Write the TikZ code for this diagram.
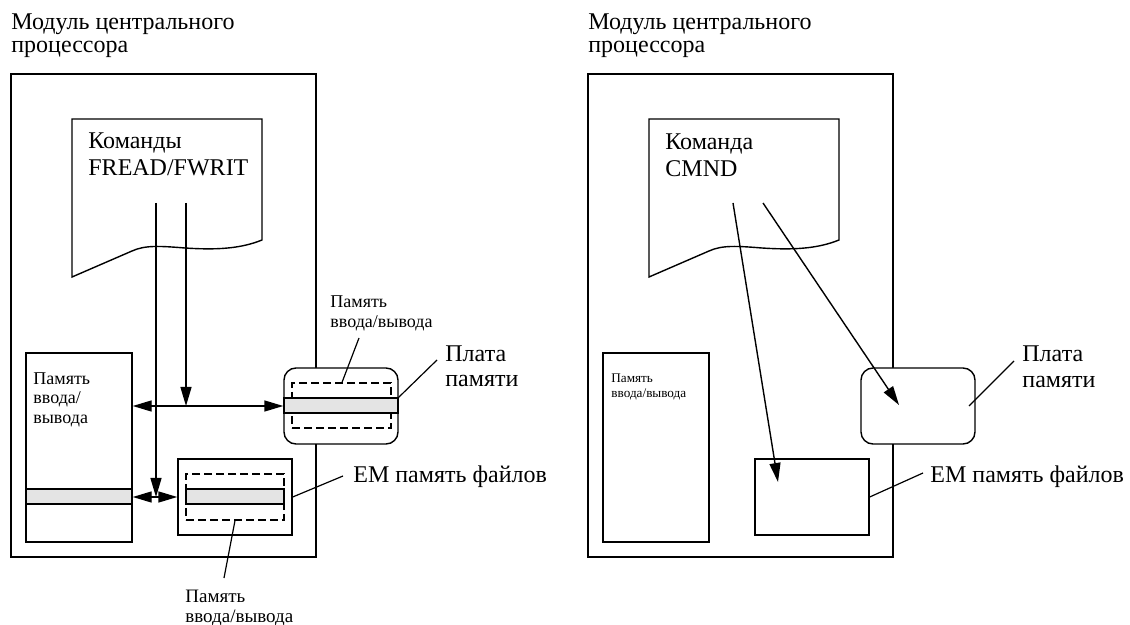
\documentclass[tikz,border=0pt]{standalone}
\usepackage{fontspec}
\setmainfont{Liberation Serif}
\usetikzlibrary{arrows.meta,fit,calc}
\definecolor{stripgray}{RGB}{228,228,228}

\tikzset{
  box/.style={draw, line width=0.7pt, inner sep=0pt, fill=white},
  board/.style={box, rounded corners=6pt},
  dashbox/.style={draw, dash pattern=on 4pt off 2pt, line width=0.6pt, inner sep=0pt},
  strip/.style={draw, line width=0.7pt, fill=stripgray, inner sep=0pt},
  txt/.style={anchor=base west, inner sep=0pt, align=left},
  bigtxt/.style={txt, font=\fontsize{12}{13.7}\selectfont},
  smalltxt/.style={txt, font=\fontsize{9}{10}\selectfont},
  tinytxt/.style={txt, font=\fontsize{6.6}{7.5}\selectfont},
  arr/.style={line width=0.7pt, -{Triangle[length=9.5pt,width=5.5pt]}},
  dbl/.style={line width=0.7pt, {Triangle[length=9.5pt,width=5.5pt]}-{Triangle[length=9.5pt,width=5.5pt]}},
  leader/.style={line width=0.6pt},
}

\begin{document}
\begin{tikzpicture}[x=0.5pt, y=-0.5pt]
    \useasboundingbox (0,0) rectangle (1130,625);

    % left: FREAD/FWRIT
    \node[bigtxt, font=\fontsize{12}{11.7}\selectfont] (titleL) at (11,53) {Модуль центрального\\процессора};
    \node[box, fill=none, fit={(11,74) (316,557)}] (cpuL) {};
    \draw[line width=0.7pt, fill=white] (72,277) -- (72,119) -- (262,119) -- (262,240)
        .. controls (240,249) and (215,250) .. (185,248)
        .. controls (160,246) and (145,245) .. (132,251) -- cycle;
    \node[bigtxt] (cmdL) at (88,176) {Команды\\FREAD/FWRIT};

    \node[box, fit={(26,353) (132,542)}] (iobufL) {};
    \node[strip, fit={(26,489) (132,504)}] (iostripL) {};
    \node[smalltxt] (iotxtL) at (33,424) {Память\\ввода/\\вывода};

    \node[box, fit={(178,459) (292,535)}] (emL) {};
    \node[dashbox, fit={(186,474) (284,520)}] (emdashL) {};
    \node[strip, fit={(186,489) (284,504)}] (emstripL) {};

    \node[board, fit={(284,368) (398,444)}] (boardL) {};
    \node[dashbox, fit={(292,383) (391,428)}] (bdashL) {};
    \node[strip, fit={(284,398) (398,413)}] (bstripL) {};

    \coordinate (rdA) at (156,203);
    \coordinate (rdB) at (186,203);
    \draw[arr] (rdB) -- (rdB |- boardL.west);
    \draw[arr] (rdA) -- (rdA |- emL.west);
    \draw[dbl] (iobufL.east |- boardL.west) -- (boardL.west);
    \draw[dbl] (iobufL.east |- emL.west) -- (emL.west);

    \node[smalltxt] (bufnoteL) at (330,328) {Память\\ввода/вывода};
    \node[bigtxt, font=\fontsize{12}{13}\selectfont] (plataL) at (445,387) {Плата\\памяти};
    \node[bigtxt] (emtxtL) at (353,482) {ЕМ память файлов};
    \node[smalltxt, font=\fontsize{9.5}{9.5}\selectfont] (emnoteL) at (185,622) {Память\\ввода/вывода};

    \coordinate (bufnoteEnd) at (359,338);
    \coordinate (plataEndL) at (437,360);
    \coordinate (emEndL) at (343,476);
    \coordinate (emnoteEnd) at (224,578);
    \draw[leader] (bdashL.north -| 342,0) -- (bufnoteEnd);
    \draw[leader] (bstripL.north east) -- (plataEndL);
    \draw[leader] (emL.east) -- (emEndL);
    \draw[leader] (emdashL.south -| 235,0) -- (emnoteEnd);

    % right: CMND
    \node[bigtxt, font=\fontsize{12}{11.7}\selectfont] (titleR) at (588,53) {Модуль центрального\\процессора};
    \node[box, fill=none, fit={(588,74) (893,557)}] (cpuR) {};
    \draw[line width=0.7pt, fill=white] (649,277) -- (649,119) -- (839,119) -- (839,240)
        .. controls (817,249) and (792,250) .. (762,248)
        .. controls (737,246) and (722,245) .. (709,251) -- cycle;
    \node[bigtxt] (cmdR) at (665,177) {Команда\\CMND};

    \node[box, fit={(603,353) (709,542)}] (iobufR) {};
    \node[tinytxt] (iotxtR) at (611,398) {Память\\ввода/вывода};
    \node[box, fit={(755,459) (869,535)}] (emR) {};
    \node[board, fit={(861,368) (975,444)}] (boardR) {};

    \coordinate (cmA) at (733,203);
    \coordinate (cmB) at (763,203);
    \coordinate (cmAend) at (778,482);
    \coordinate (cmBend) at (899,405);
    \draw[arr] (cmA) -- (cmAend);
    \draw[arr] (cmB) -- (cmBend);

    \node[bigtxt, font=\fontsize{12}{13}\selectfont] (plataR) at (1022,388) {Плата\\памяти};
    \node[bigtxt] (emtxtR) at (930,482) {ЕМ память файлов};
    \coordinate (plataStartR) at (969,406);
    \coordinate (plataEndR) at (1014,361);
    \coordinate (emEndR) at (923,473);
    \draw[leader] (plataStartR) -- (plataEndR);
    \draw[leader] (emR.east) -- (emEndR);
\end{tikzpicture}
\end{document}
